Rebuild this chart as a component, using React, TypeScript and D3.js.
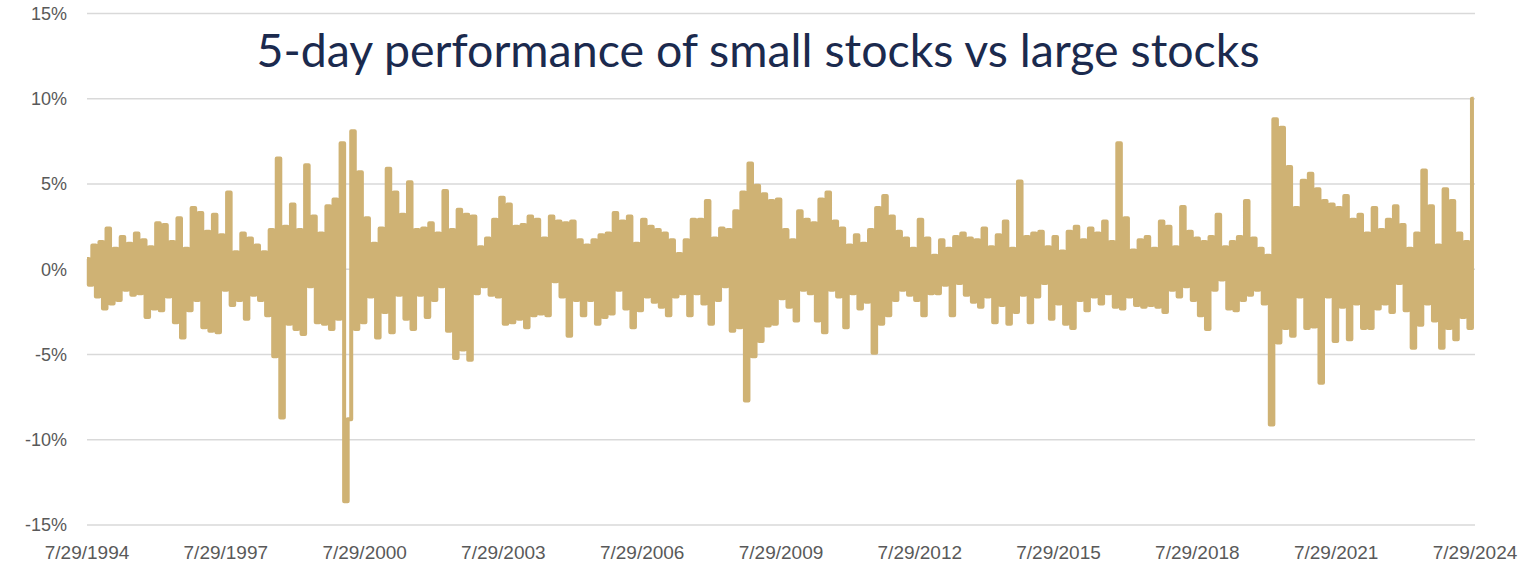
import React from "react";
import * as d3 from "d3";

// 5-day relative performance (small minus large), sampled every 4 weeks, in %
const seg1 = [0.6, -0.9, 1.4, -1.6, 1.6, -2.3, 2.4, -2.0, 1.2, -1.8, 1.9, -1.2, 1.5, -1.5, 2.1, -1.4, 1.7, -2.8, 1.3, -2.3, 2.7, -2.4, 2.6, -1.6, 1.6, -3.1, 3.0, -4.0, 1.2, -2.4, 3.6, -1.8, 3.3, -3.4, 2.2, -3.6, 3.2, -3.7, 2.0, -1.2, 4.5, -2.1, 1.0, -1.8, 2.1, -2.9, 1.8, -1.5, 1.4, -1.8];
const seg2 = [1.0, -2.7, 2.3, -5.1, 6.5, -8.7, 2.5, -3.2, 3.8, -3.5, 2.3, -3.8, 6.1, -1.0, 3.1, -3.1, 2.1, -3.2, 3.7, -3.5, 4.1, -2.9, 7.4, -13.6, -8.8, 8.1, -3.5, 5.7, -3.1, 3.0, -1.6, 1.5, -4.0, 2.4, -2.5, 5.9, -3.7, 4.5, -1.5, 3.2, -2.9, 5.1, -3.5, 2.3, -1.5, 2.4, -2.8, 2.7, -1.8, 2.1];
const seg3 = [-1.0, 4.6, -3.6, 2.3, -5.2, 3.5, -4.7, 3.2, -5.3, 3.1, -1.4, 1.3, -1.0, 1.8, -1.5, 2.9, -1.6, 4.2, -3.2, 3.8, -3.1, 2.5, -2.9, 2.6, -3.4, 3.1, -2.7, 2.9, -2.6, 1.8, -2.7, 3.1, -0.7, 2.8, -1.6, 2.7, -3.9, 2.8, -1.8, 1.7, -2.7, 1.4, -1.8, 1.7, -3.2, 2.0, -2.8, 2.1, -2.6, 3.3];
const seg4 = [-1.2, 2.8, -2.3, 3.1, -3.4, 1.5, -2.4, 2.9, -1.6, 2.5, -1.9, 2.3, -2.2, 2.1, -2.7, 1.7, -1.6, 0.9, -1.4, 1.7, -2.7, 2.9, -1.4, 2.9, -2.0, 4.0, -3.2, 1.8, -1.8, 2.4, -1.0, 2.3, -3.6, 3.4, -3.4, 4.5, -7.7, 6.2, -5.1, 4.9, -4.2, 4.4, -3.3, 4.0, -3.2, 4.1, -1.7, 2.3, -2.2, 1.7];
const seg5 = [-3.0, 3.4, -1.2, 2.9, -1.4, 2.7, -3.0, 4.1, -3.7, 4.5, -1.2, 2.8, -1.6, 2.4, -3.4, 1.4, -1.4, 2.0, -2.3, 1.5, -1.9, 2.3, -4.9, 3.6, -3.2, 4.3, -2.7, 3.1, -1.8, 2.2, -1.2, 1.8, -1.5, 1.2, -1.8, 2.9, -2.7, 1.8, -1.4, 0.8, -1.4, 1.7, -0.9, 1.2, -2.7, 1.9, -0.8, 2.1, -1.5, 1.8];
const seg6 = [-1.9, 1.7, -2.2, 2.4, -1.6, 1.3, -3.1, 2.0, -2.1, 2.8, -3.2, 1.2, -2.5, 5.15, -1.5, 1.9, -3.1, 2.1, -1.6, 2.2, -0.8, 1.3, -2.9, 1.9, -2.0, 1.05, -3.2, 2.2, -3.45, 2.5, -1.8, 1.7, -2.4, 2.4, -1.6, 2.1, -2.0, 2.8, -1.4, 1.6, -2.2, 7.4, -2.3, 3.0, -1.6, 1.1, -2.1, 1.7, -2.2, 1.9];
const seg7 = [-2.1, 1.2, -2.2, 2.8, -2.5, 2.5, -1.2, 1.3, -1.6, 3.65, -1.0, 2.2, -1.8, 1.8, -2.7, 1.6, -3.5, 1.9, -1.2, 3.2, -0.6, 1.3, -2.3, 1.6, -2.4, 1.9, -1.8, 4.0, -1.5, 1.8, -1.2, 1.2, -2.0, 0.8, -9.1, 8.8, -4.3, 8.3, -3.45, 6.0, -3.9, 3.6, -1.6, 5.2, -3.45, 5.6, -3.35, 4.7, -6.65, 4.0];
const seg8 = [-1.6, 3.8, -4.2, 3.6, -2.2, 4.3, -4.1, 2.9, -2.0, 3.2, -3.45, 2.1, -3.45, 3.6, -2.3, 2.3, -2.0, 2.9, -2.5, 3.7, -0.8, 2.6, -2.4, 1.2, -4.6, 2.1, -3.25, 5.8, -2.0, 3.7, -3.0, 1.4, -4.6, 4.7, -3.45, 4.0, -4.1, 2.1, -2.8, 1.6, -3.45, 10.0];

const yTicks = [-15, -10, -5, 0, 5, 10, 15];
const xTickLabels = ["7/29/1994", "7/29/1997", "7/29/2000", "7/29/2003", "7/29/2006", "7/29/2009", "7/29/2012", "7/29/2015", "7/29/2018", "7/29/2021", "7/29/2024"];
const title = "5-day performance of small stocks vs large stocks";

const startDate = new Date(1994, 6, 29);
const endDate = new Date(2024, 6, 29);
const stepDays = 28;

export default function App() {
  const W = 1520;
  const H = 579;
  const margin = { left: 87, right: 45, top: 13.6, bottom: 54 };

  const series = [...seg1, ...seg2, ...seg3, ...seg4, ...seg5, ...seg6, ...seg7, ...seg8];
  const data = series.map((v, i) => ({ date: d3.timeDay.offset(startDate, i * stepDays), value: v }));

  const x = d3.scaleTime().domain([startDate, endDate]).range([margin.left, W - margin.right]);
  const y = d3.scaleLinear().domain([-15, 15]).range([H - margin.bottom, margin.top]);

  const line = d3
    .line<{ date: Date; value: number }>()
    .x((d) => x(d.date))
    .y((d) => y(d.value))
    .curve(d3.curveStep);

  const parse = d3.timeParse("%m/%d/%Y");
  const font = "'Liberation Sans', Arial, sans-serif";

  return (
    <svg width={W} height={H} style={{ position: "absolute", left: 0, top: 0, background: "#fff" }}>
      {yTicks.map((t) => (
        <g key={t}>
          <line x1={margin.left} x2={W - margin.right} y1={y(t)} y2={y(t)} stroke="#D9D9D9" strokeWidth={1.5} />
          <text x={67} y={y(t)} dy="0.35em" textAnchor="end" fontFamily={font} fontSize={18} fill="#595959">
            {t}%
          </text>
        </g>
      ))}
      {xTickLabels.map((lbl) => (
        <text key={lbl} x={x(parse(lbl) as Date)} y={559} textAnchor="middle" fontFamily={font} fontSize={19} fill="#595959">
          {lbl}
        </text>
      ))}
      <path d={line(data) ?? ""} fill="none" stroke="#CFB274" strokeWidth={4} strokeLinejoin="round" strokeLinecap="butt" />
      <text x={758} y={67} textAnchor="middle" fontFamily="Lato, 'Open Sans', sans-serif" fontSize={46.5} fill="#1B2A4E">
        {title}
      </text>
    </svg>
  );
}
